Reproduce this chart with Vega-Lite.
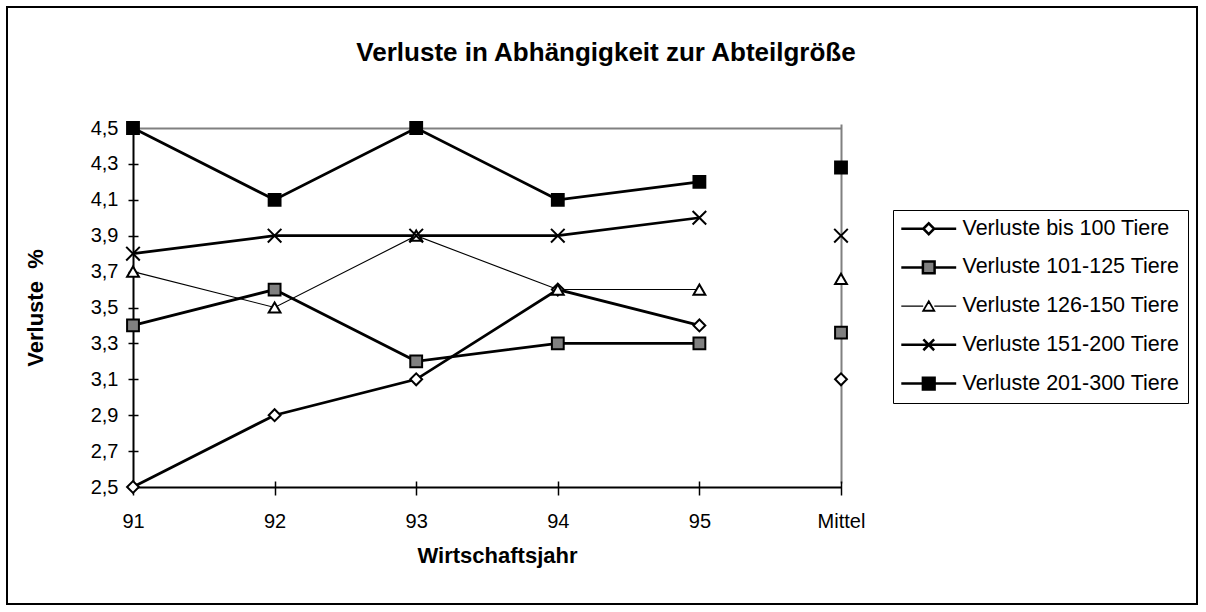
{
  "$schema": "https://vega.github.io/schema/vega-lite/v6.json",
  "width": 1190,
  "height": 597,
  "autosize": {"type": "none"},
  "padding": {"left": 7, "top": 7, "right": 9, "bottom": 8},
  "background": "white",
  "title": {
    "text": "Verluste in Abhängigkeit zur Abteilgröße",
    "fontSize": 26,
    "fontWeight": "bold",
    "font": "Liberation Sans",
    "color": "black",
    "anchor": "middle",
    "baseline": "middle",
    "dx": 4,
    "offset": -72
  },
  "data": {
    "values": [
      {"jahr": "91", "series": "Verluste bis 100 Tiere", "wert": 2.5},
      {"jahr": "92", "series": "Verluste bis 100 Tiere", "wert": 2.9},
      {"jahr": "93", "series": "Verluste bis 100 Tiere", "wert": 3.1},
      {"jahr": "94", "series": "Verluste bis 100 Tiere", "wert": 3.6},
      {"jahr": "95", "series": "Verluste bis 100 Tiere", "wert": 3.4},
      {"jahr": "Mittel", "series": "Verluste bis 100 Tiere", "wert": 3.1},
      {"jahr": "91", "series": "Verluste 101-125 Tiere", "wert": 3.4},
      {"jahr": "92", "series": "Verluste 101-125 Tiere", "wert": 3.6},
      {"jahr": "93", "series": "Verluste 101-125 Tiere", "wert": 3.2},
      {"jahr": "94", "series": "Verluste 101-125 Tiere", "wert": 3.3},
      {"jahr": "95", "series": "Verluste 101-125 Tiere", "wert": 3.3},
      {"jahr": "Mittel", "series": "Verluste 101-125 Tiere", "wert": 3.36},
      {"jahr": "91", "series": "Verluste 126-150 Tiere", "wert": 3.7},
      {"jahr": "92", "series": "Verluste 126-150 Tiere", "wert": 3.5},
      {"jahr": "93", "series": "Verluste 126-150 Tiere", "wert": 3.9},
      {"jahr": "94", "series": "Verluste 126-150 Tiere", "wert": 3.6},
      {"jahr": "95", "series": "Verluste 126-150 Tiere", "wert": 3.6},
      {"jahr": "Mittel", "series": "Verluste 126-150 Tiere", "wert": 3.66},
      {"jahr": "91", "series": "Verluste 151-200 Tiere", "wert": 3.8},
      {"jahr": "92", "series": "Verluste 151-200 Tiere", "wert": 3.9},
      {"jahr": "93", "series": "Verluste 151-200 Tiere", "wert": 3.9},
      {"jahr": "94", "series": "Verluste 151-200 Tiere", "wert": 3.9},
      {"jahr": "95", "series": "Verluste 151-200 Tiere", "wert": 4.0},
      {"jahr": "Mittel", "series": "Verluste 151-200 Tiere", "wert": 3.9},
      {"jahr": "91", "series": "Verluste 201-300 Tiere", "wert": 4.5},
      {"jahr": "92", "series": "Verluste 201-300 Tiere", "wert": 4.1},
      {"jahr": "93", "series": "Verluste 201-300 Tiere", "wert": 4.5},
      {"jahr": "94", "series": "Verluste 201-300 Tiere", "wert": 4.1},
      {"jahr": "95", "series": "Verluste 201-300 Tiere", "wert": 4.2},
      {"jahr": "Mittel", "series": "Verluste 201-300 Tiere", "wert": 4.28}
    ]
  },
  "encoding": {
    "x": {
      "field": "jahr",
      "type": "ordinal",
      "scale": {"type": "point", "domain": ["91", "92", "93", "94", "95", "Mittel"], "range": [126, 834], "padding": 0},
      "axis": {
        "title": "Wirtschaftsjahr",
        "orient": "bottom",
        "offset": -123,
        "domain": false,
        "grid": true,
        "gridColor": {"condition": [{"test": "datum.value === '91'", "value": "black"}, {"test": "datum.value === 'Mittel'", "value": "#808080"}], "value": "transparent"},
        "gridWidth": 2,
        "ticks": true,
        "tickSize": 14,
        "tickColor": "black",
        "tickWidth": 1.5,
        "labelAngle": 0,
        "labelFontSize": 20,
        "labelColor": "black",
        "labelPadding": 16,
        "titleFontSize": 22,
        "titleFontWeight": "bold",
        "titleColor": "black",
        "titleX": 490,
        "titleY": 74,
        "titleBaseline": "middle"
      }
    },
    "y": {
      "field": "wert",
      "type": "quantitative",
      "scale": {"domain": [2.5, 4.5], "range": [480, 121], "nice": false, "zero": false},
      "axis": {
        "title": "Verluste\u00a0 %",
        "orient": "left",
        "offset": -131,
        "values": [2.5, 2.7, 2.9, 3.1, 3.3, 3.5, 3.7, 3.9, 4.1, 4.3, 4.5],
        "labelExpr": "replace(format(datum.value, '.1f'), '.', ',')",
        "domain": false,
        "grid": true,
        "gridColor": {"condition": [{"test": "abs(datum.value - 2.5) < 0.001", "value": "black"}, {"test": "abs(datum.value - 4.5) < 0.001", "value": "#808080"}], "value": "transparent"},
        "gridWidth": 2,
        "tickSize": 10,
        "tickColor": "black",
        "tickWidth": 1.5,
        "labelFontSize": 20,
        "labelColor": "black",
        "labelPadding": 10,
        "titleFontSize": 22,
        "titleFontWeight": "bold",
        "titleColor": "black",
        "titleX": -103,
        "titleBaseline": "middle"
      }
    }
  },
  "layer": [
    {
      "transform": [{"filter": "datum.jahr !== 'Mittel' && datum.series !== 'Verluste 126-150 Tiere'"}],
      "mark": {"type": "line", "stroke": "black", "strokeWidth": 2.75},
      "encoding": {
        "detail": {"field": "series", "type": "nominal"}
      }
    },
    {
      "transform": [{"filter": "datum.jahr !== 'Mittel' && datum.series === 'Verluste 126-150 Tiere'"}],
      "mark": {"type": "line", "stroke": "black", "strokeWidth": 1.1},
      "encoding": {}
    },
    {
      "mark": {"type": "point", "filled": true, "stroke": "black", "strokeWidth": 2, "size": 140, "opacity": 1},
      "encoding": {
        "shape": {
          "field": "series",
          "type": "nominal",
          "scale": {"domain": ["Verluste bis 100 Tiere", "Verluste 101-125 Tiere", "Verluste 126-150 Tiere", "Verluste 151-200 Tiere", "Verluste 201-300 Tiere"], "range": ["diamond", "square", "triangle-up", "M-1.15,-1.15L1.15,1.15M-1.15,1.15L1.15,-1.15", "square"]},
          "legend": null
        },
        "fill": {
          "field": "series",
          "type": "nominal",
          "scale": {"domain": ["Verluste bis 100 Tiere", "Verluste 101-125 Tiere", "Verluste 126-150 Tiere", "Verluste 151-200 Tiere", "Verluste 201-300 Tiere"], "range": ["white", "#808080", "white", "transparent", "black"]},
          "legend": null
        }
      }
    },
    {
      "transform": [{"filter": "datum.jahr === 'Mittel'"}],
      "mark": {"type": "point", "filled": false, "size": 324, "opacity": 0},
      "encoding": {
        "shape": {
          "field": "series",
          "type": "nominal",
          "scale": {"domain": ["Verluste bis 100 Tiere", "Verluste 101-125 Tiere", "Verluste 126-150 Tiere", "Verluste 151-200 Tiere", "Verluste 201-300 Tiere"], "range": ["M-3.05,0H-0.6M0.6,0H3.05M-0.6,0L0,-0.6L0.6,0L0,0.6Z", "M-3.05,0H-0.65M0.65,0H3.05M-0.65,-0.65H0.65V0.65H-0.65Z", "M-3.05,0H-0.62M0.62,0H3.05M0,-0.62L0.68,0.56H-0.68ZM0,-0.47L0.54,0.46H-0.54Z", "M-3.05,0H3.05M-0.6,-0.6L0.6,0.6M-0.6,0.6L0.6,-0.6", "M-3.05,0H3.05M-0.65,-0.65H0.65V0.65H-0.65Z"]},
          "legend": {
            "title": null, "orient": "none", "legendX": 886, "legendY": 203, "padding": 8, "strokeColor": "black",
            "rowPadding": 15.7, "labelFontSize": 21.5, "labelFont": "Liberation Sans", "labelColor": "black", "labelLimit": 400,
            "labelOffset": 23, "symbolOffset": 17, "symbolSize": 324, "symbolOpacity": 1, "symbolStrokeColor": "black", "symbolStrokeWidth": 2.5
          }
        },
        "fill": {
          "field": "series",
          "type": "nominal",
          "scale": {"domain": ["Verluste bis 100 Tiere", "Verluste 101-125 Tiere", "Verluste 126-150 Tiere", "Verluste 151-200 Tiere", "Verluste 201-300 Tiere"], "range": ["white", "#808080", "white", "white", "black"]},
          "legend": {
            "title": null, "orient": "none", "legendX": 886, "legendY": 203, "padding": 8, "strokeColor": "black",
            "rowPadding": 15.7, "labelFontSize": 21.5, "labelFont": "Liberation Sans", "labelColor": "black", "labelLimit": 400,
            "labelOffset": 23, "symbolOffset": 17, "symbolSize": 324, "symbolOpacity": 1, "symbolStrokeColor": "black", "symbolStrokeWidth": 2.5
          }
        },
        "stroke": {
          "field": "series",
          "type": "nominal",
          "scale": {"domain": ["Verluste bis 100 Tiere", "Verluste 101-125 Tiere", "Verluste 126-150 Tiere", "Verluste 151-200 Tiere", "Verluste 201-300 Tiere"], "range": ["black", "black", "black", "black", "black"]},
          "legend": {
            "title": null, "orient": "none", "legendX": 886, "legendY": 203, "padding": 8, "strokeColor": "black",
            "rowPadding": 15.7, "labelFontSize": 21.5, "labelFont": "Liberation Sans", "labelColor": "black", "labelLimit": 400,
            "labelOffset": 23, "symbolOffset": 17, "symbolSize": 324, "symbolOpacity": 1, "symbolStrokeColor": "black", "symbolStrokeWidth": 2.5
          }
        },
        "strokeWidth": {
          "field": "series",
          "type": "nominal",
          "scale": {"type": "ordinal", "domain": ["Verluste bis 100 Tiere", "Verluste 101-125 Tiere", "Verluste 126-150 Tiere", "Verluste 151-200 Tiere", "Verluste 201-300 Tiere"], "range": [2.5, 2.5, 1.1, 2.5, 2.5]},
          "legend": {
            "title": null, "orient": "none", "legendX": 886, "legendY": 203, "padding": 8, "strokeColor": "black",
            "rowPadding": 15.7, "labelFontSize": 21.5, "labelFont": "Liberation Sans", "labelColor": "black", "labelLimit": 400,
            "labelOffset": 23, "symbolOffset": 17, "symbolSize": 324, "symbolOpacity": 1, "symbolStrokeColor": "black", "symbolStrokeWidth": 2.5
          }
        }
      }
    }
  ],
  "resolve": {
    "scale": {"shape": "independent", "fill": "independent", "strokeWidth": "independent", "stroke": "independent"},
    "legend": {"shape": "independent", "fill": "independent", "strokeWidth": "independent", "stroke": "independent"}
  },
  "config": {
    "font": "Liberation Sans",
    "view": {"stroke": "black", "strokeWidth": 2}
  }
}
